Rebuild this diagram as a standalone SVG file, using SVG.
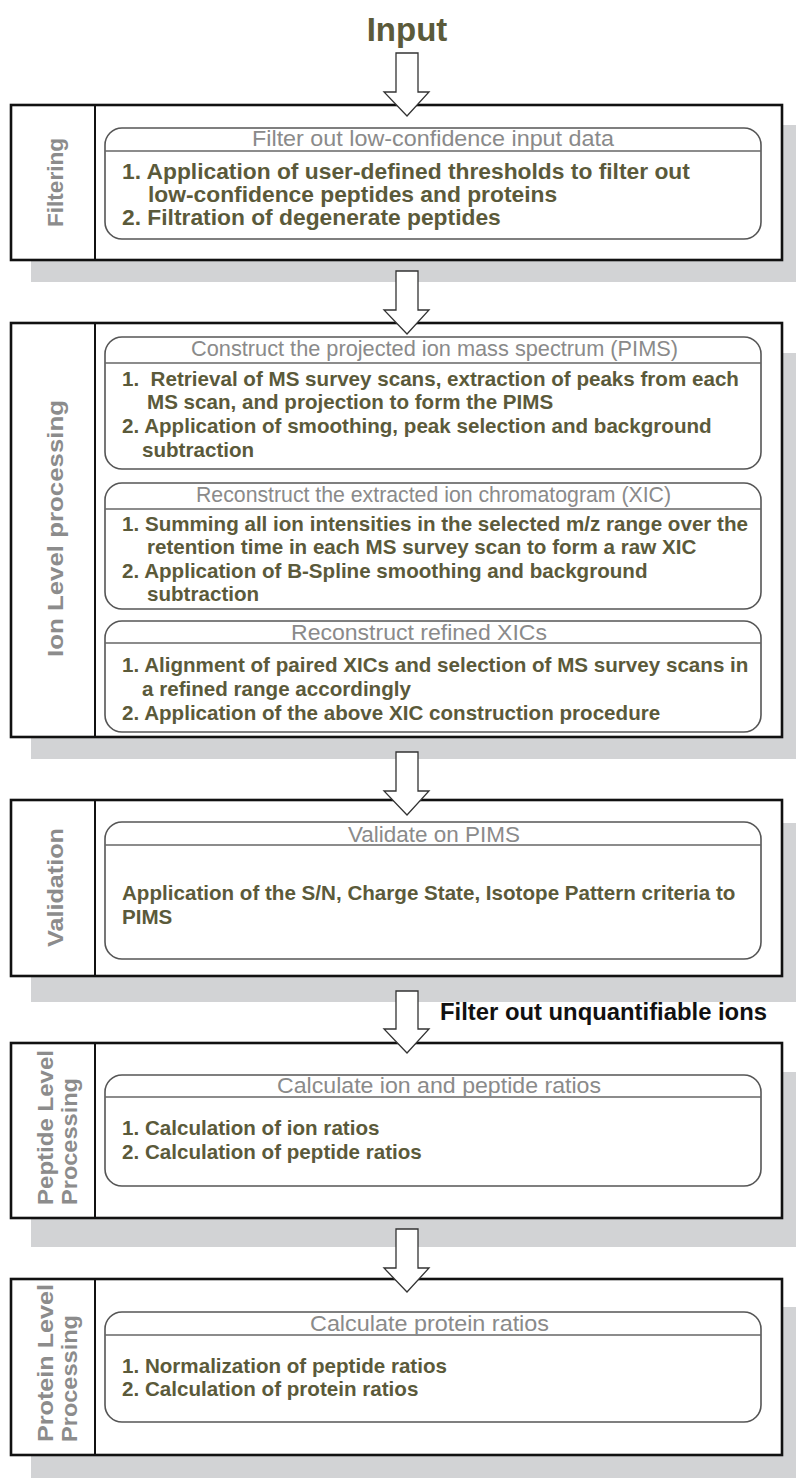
<svg xmlns="http://www.w3.org/2000/svg" width="796" height="1478" viewBox="0 0 796 1478">
<style>
.bg{fill:#ffffff}
.shadow{fill:#d2d3d5;stroke:none}
.outer{fill:#ffffff;stroke:#111111;stroke-width:2.6}
.div{stroke:#111111;stroke-width:2}
.sub{fill:#ffffff;stroke:#555555;stroke-width:1.6}
.sep{stroke:#666666;stroke-width:1.6}
.lab{font-family:"Liberation Sans",Arial,sans-serif;font-weight:bold;font-size:22.5px;fill:#8c8c8c}
.hdr{font-family:"Liberation Sans",Arial,sans-serif;font-size:22px;fill:#8a8a8a;text-anchor:middle}
.body{font-family:"Liberation Sans",Arial,sans-serif;font-weight:bold;font-size:20.6px;fill:#5b5a3a}
.bodyL{font-family:"Liberation Sans",Arial,sans-serif;font-weight:bold;font-size:22.8px;fill:#5b5a3a}
.arrow{fill:#ffffff;stroke:#333333;stroke-width:1.3;stroke-linejoin:miter}
</style>
<rect class="bg" x="0" y="0" width="796" height="1478"/>
<g id="input">
<text x="407" y="41" font-family="Liberation Sans, Arial, sans-serif" font-weight="bold" font-size="33" fill="#5b5a3a" text-anchor="middle">Input</text>
</g>
<g id="shadows">
<rect class="shadow" x="31" y="125" width="770" height="157"/>
<rect class="shadow" x="31" y="353" width="770" height="406"/>
<rect class="shadow" x="31" y="823" width="770" height="179"/>
<rect class="shadow" x="31" y="1072" width="770" height="175"/>
<rect class="shadow" x="31" y="1307" width="770" height="171"/>
</g>
<g id="filtering">
<rect class="outer" x="11" y="105" width="771" height="155"/>
<line class="div" x1="95" y1="105" x2="95" y2="260"/>
<text class="lab" transform="translate(63,182.5) rotate(-90)" text-anchor="middle" textLength="89" lengthAdjust="spacingAndGlyphs">Filtering</text>
<rect class="sub" x="105" y="128" width="656" height="111" rx="17" ry="17"/>
<line class="sep" x1="105" y1="151" x2="761" y2="151"/>
<text class="hdr" x="433" y="146" font-size="23.4" textLength="362" lengthAdjust="spacingAndGlyphs">Filter out low-confidence input data</text>
<text class="bodyL" x="122" y="179">1. Application of user-defined thresholds to filter out</text>
<text class="bodyL" x="148" y="202">low-confidence peptides and proteins</text>
<text class="bodyL" x="122" y="225">2. Filtration of degenerate peptides</text>
</g>
<g id="ion-level">
<rect class="outer" x="11" y="323" width="771" height="414"/>
<line class="div" x1="95" y1="323" x2="95" y2="737"/>
<text class="lab" transform="translate(63,528.5) rotate(-90)" text-anchor="middle" textLength="257" lengthAdjust="spacingAndGlyphs">Ion Level processing</text>
<g id="pims">
<rect class="sub" x="105" y="337" width="656" height="132" rx="17" ry="17"/>
<line class="sep" x1="105" y1="363" x2="761" y2="363"/>
<text class="hdr" x="434.5" y="356" textLength="487" lengthAdjust="spacingAndGlyphs">Construct the projected ion mass spectrum (PIMS)</text>
<text class="body" x="122" y="386">1.&#160; Retrieval of MS survey scans, extraction of peaks from each</text>
<text class="body" x="147" y="409">MS scan, and projection to form the PIMS</text>
<text class="body" x="122" y="433">2. Application of smoothing, peak selection and background</text>
<text class="body" x="142" y="457">subtraction</text>
</g>
<g id="xic">
<rect class="sub" x="105" y="483" width="656" height="126" rx="17" ry="17"/>
<line class="sep" x1="105" y1="509" x2="761" y2="509"/>
<text class="hdr" x="433.5" y="502" textLength="475" lengthAdjust="spacingAndGlyphs">Reconstruct the extracted ion chromatogram (XIC)</text>
<text class="body" x="122" y="531">1. Summing all ion intensities in the selected m/z range over the</text>
<text class="body" x="147" y="554">retention time in each MS survey scan to form a raw XIC</text>
<text class="body" x="122" y="578">2. Application of B-Spline smoothing and background</text>
<text class="body" x="147" y="601">subtraction</text>
</g>
<g id="refined">
<rect class="sub" x="105" y="621" width="656" height="111" rx="17" ry="17"/>
<line class="sep" x1="105" y1="643" x2="761" y2="643"/>
<text class="hdr" x="419" y="640" textLength="256" lengthAdjust="spacingAndGlyphs">Reconstruct refined XICs</text>
<text class="body" x="122" y="672">1. Alignment of paired XICs and selection of MS survey scans in</text>
<text class="body" x="142" y="696">a refined range accordingly</text>
<text class="body" x="122" y="720">2. Application of the above XIC construction procedure</text>
</g>
</g>
<g id="validation">
<rect class="outer" x="11" y="800" width="771" height="176"/>
<line class="div" x1="95" y1="800" x2="95" y2="976"/>
<text class="lab" transform="translate(63,887.5) rotate(-90)" text-anchor="middle" textLength="119" lengthAdjust="spacingAndGlyphs">Validation</text>
<rect class="sub" x="105" y="822" width="656" height="137" rx="17" ry="17"/>
<line class="sep" x1="105" y1="845" x2="761" y2="845"/>
<text class="hdr" x="434" y="842" textLength="172" lengthAdjust="spacingAndGlyphs">Validate on PIMS</text>
<text class="body" x="122" y="900">Application of the S/N, Charge State, Isotope Pattern criteria to</text>
<text class="body" x="122" y="924">PIMS</text>
</g>
<g id="filter-note">
<text x="440" y="1020" font-family="Liberation Sans, Arial, sans-serif" font-weight="bold" font-size="23" fill="#111111" textLength="327" lengthAdjust="spacingAndGlyphs">Filter out unquantifiable ions</text>
</g>
<g id="peptide-level">
<rect class="outer" x="11" y="1043" width="771" height="175"/>
<line class="div" x1="95" y1="1043" x2="95" y2="1218"/>
<text class="lab" transform="translate(53,1205) rotate(-90)" textLength="155" lengthAdjust="spacingAndGlyphs">Peptide Level</text>
<text class="lab" transform="translate(77,1205) rotate(-90)" textLength="127" lengthAdjust="spacingAndGlyphs">Processing</text>
<rect class="sub" x="105" y="1075" width="656" height="111" rx="17" ry="17"/>
<line class="sep" x1="105" y1="1097" x2="761" y2="1097"/>
<text class="hdr" x="439" y="1093" textLength="324" lengthAdjust="spacingAndGlyphs">Calculate ion and peptide ratios</text>
<text class="body" x="122" y="1135">1. Calculation of ion ratios</text>
<text class="body" x="122" y="1159">2. Calculation of peptide ratios</text>
</g>
<g id="protein-level">
<rect class="outer" x="11" y="1279" width="771" height="176"/>
<line class="div" x1="95" y1="1279" x2="95" y2="1455"/>
<text class="lab" transform="translate(53,1442) rotate(-90)" textLength="158" lengthAdjust="spacingAndGlyphs">Protein Level</text>
<text class="lab" transform="translate(77,1442) rotate(-90)" textLength="127" lengthAdjust="spacingAndGlyphs">Processing</text>
<rect class="sub" x="105" y="1312" width="656" height="110" rx="17" ry="17"/>
<line class="sep" x1="105" y1="1335" x2="761" y2="1335"/>
<text class="hdr" x="429.5" y="1331" textLength="239" lengthAdjust="spacingAndGlyphs">Calculate protein ratios</text>
<text class="body" x="122" y="1373">1. Normalization of peptide ratios</text>
<text class="body" x="122" y="1396">2. Calculation of protein ratios</text>
</g>
<g id="connectors">
<polygon class="arrow" points="396,53 418,53 418,92 429,92 407,116 384,92 396,92"/>
<polygon class="arrow" points="396,271 418,271 418,310 429,310 407,334 384,310 396,310"/>
<polygon class="arrow" points="396,752 418,752 418,791 429,791 407,815 384,791 396,791"/>
<polygon class="arrow" points="396,991 418,991 418,1029 429,1029 407,1053 384,1029 396,1029"/>
<polygon class="arrow" points="396,1229 418,1229 418,1268 429,1268 407,1292 384,1268 396,1268"/>
</g>
</svg>
